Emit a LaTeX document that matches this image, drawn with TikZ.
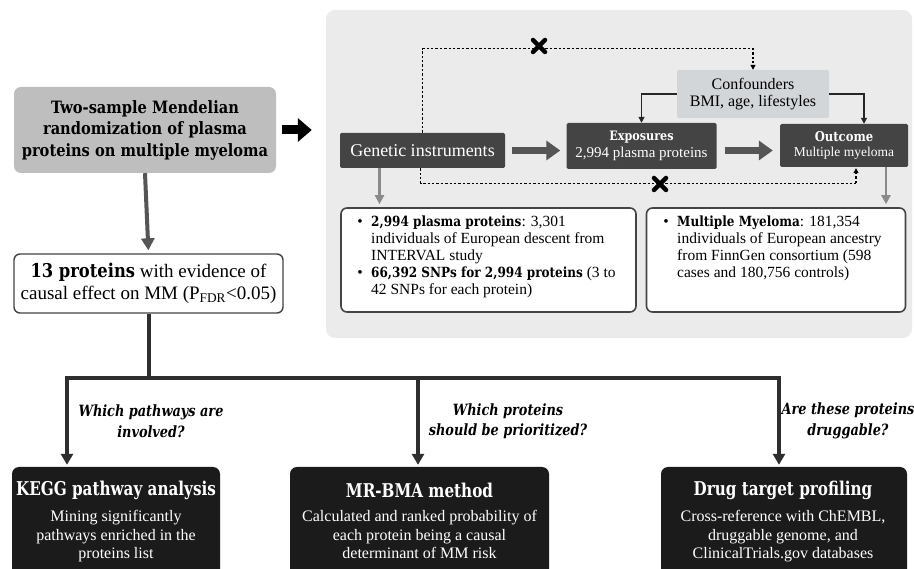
\documentclass[tikz,border=0pt]{standalone}
\usepackage{fontspec}
\setmainfont{Liberation Serif}
\newfontfamily\slab{DejaVu Serif}[FakeStretch=0.86]
\newfontfamily\slabn{DejaVu Serif}[FakeStretch=0.8]
\newfontfamily\slabi{DejaVu Serif}[FakeStretch=0.83]
\usetikzlibrary{arrows.meta}
\definecolor{panelc}{HTML}{EBEBEB}
\definecolor{titlec}{HTML}{BEBEBE}
\definecolor{confc}{HTML}{D3D6D9}
\definecolor{darkc}{HTML}{444444}
\definecolor{blackc}{HTML}{1B1B1B}
\definecolor{arrc}{HTML}{555555}
\definecolor{lightarr}{HTML}{8A8A8A}
\definecolor{treec}{HTML}{2E2E2E}
\newcommand{\bslab}[1]{{\slab\bfseries\fontsize{14}{16.8}\selectfont #1}}
\tikzset{
  darkbox/.style={fill=darkc, text=white, rounded corners=1.5pt, inner sep=0pt, align=center},
  whitebox/.style={draw=darkc, line width=1.6pt, fill=white, rounded corners=6pt, inner sep=0pt},
  botbox/.style={fill=blackc, rounded corners=7pt, inner sep=0pt},
  fatarrow/.style={arrc, line width=7pt, -{Triangle[width=19pt,length=14pt]}},
  lightarrow/.style={lightarr, line width=2.5pt, -{Triangle[width=9pt,length=9pt]}},
  dotline/.style={black, line width=1.1pt, dash pattern=on 2.4pt off 2pt},
  dottip/.style={-{Triangle[width=5pt,length=5pt]}},
  thinarrow/.style={black!85, line width=1.2pt, -{Triangle[width=6pt,length=6pt]}},
  treeline/.style={treec, line width=4pt, line join=miter},
  treearrow/.style={treec, line width=4pt, -{Triangle[width=12pt,length=11pt]}},
  question/.style={align=center, font=\slabi\bfseries\itshape\fontsize{15.5}{20.5}\selectfont},
  xmark/.style={black, line width=4.5pt, line cap=round},
  bodytxt/.style={text=white, align=center, font=\fontsize{16}{18.5}\selectfont},
  bottitle/.style={text=white, font=\slabn\bfseries\fontsize{19}{22}\selectfont},
  infotxt/.style={anchor=north west, inner sep=0pt, align=left, font=\fontsize{15.5}{16.8}\selectfont},
  bullet/.style={anchor=north east, inner sep=0pt, font=\fontsize{15.5}{16.8}\selectfont},
}
\begin{document}
\begin{tikzpicture}[x=1pt,y=-1pt]
\useasboundingbox[fill=white] (0,0) rectangle (914,569);

% right panel
\node[fill=panelc, rounded corners=9pt, minimum width=586pt, minimum height=328pt, inner sep=0pt] (panel) at (619,174) {};

% title box
\node[fill=titlec, rounded corners=7pt, minimum width=262pt, minimum height=86pt, inner sep=0pt, align=center,
      font=\slab\bfseries\fontsize{17}{21.5}\selectfont] (title) at (145,130)
  {Two-sample Mendelian\\randomization of plasma\\proteins on multiple myeloma};

% 13 proteins box
\node[draw=darkc, line width=1.4pt, fill=white, rounded corners=6pt, minimum width=269pt, minimum height=59pt, inner sep=0pt,
      align=center, font=\fontsize{19}{21.5}\selectfont] (p13) at (148.5,283.5)
  {{\slab\bfseries 13 proteins} with evidence of\\causal effect on MM (P\textsubscript{FDR}<0.05)};

% panel nodes
\node[darkbox, minimum width=165pt, minimum height=35pt, font=\fontsize{18}{20}\selectfont] (gen) at (422.5,150.5) {Genetic instruments};
\node[darkbox, minimum width=150pt, minimum height=46pt] (exp) at (641.5,146)
  {{\slab\bfseries\fontsize{13}{15}\selectfont Exposures}\\[3pt]{\fontsize{15}{17}\selectfont 2,994 plasma proteins}};
\node[darkbox, minimum width=128pt, minimum height=43pt] (out) at (844,145.5)
  {{\slab\bfseries\fontsize{13.5}{15}\selectfont Outcome}\\[3pt]{\fontsize{13.5}{15}\selectfont Multiple myeloma}};
\node[fill=confc, rounded corners=2pt, minimum width=152pt, minimum height=48pt, inner sep=0pt, align=center,
      font=\fontsize{16}{17}\selectfont] (conf) at (753,94)
  {Confounders\\BMI, age, lifestyles};

% info boxes
\node[whitebox, minimum width=295pt, minimum height=104pt] (info1) at (488.5,260) {};
\node[whitebox, minimum width=259pt, minimum height=104pt] (info2) at (776,260) {};
\node[infotxt] (i1a) at (371,215)
  {\strut\bslab{2,994 plasma proteins}: 3,301\\individuals of European descent from\\INTERVAL study};
\node[bullet] (i1ab) at ([xshift=-8pt]i1a.north west) {\strut\textbullet};
\node[infotxt] (i1b) at (371,265.5)
  {\strut\bslab{66,392 SNPs for 2,994 proteins} (3 to\\42 SNPs for each protein)};
\node[bullet] (i1bb) at ([xshift=-8pt]i1b.north west) {\strut\textbullet};
\node[infotxt] (i2a) at (677,215)
  {\strut\bslab{Multiple Myeloma}: 181,354\\individuals of European ancestry\\from FinnGen consortium (598\\cases and 180,756 controls)};
\node[bullet] (i2ab) at ([xshift=-8pt]i2a.north west) {\strut\textbullet};

% bottom boxes
\node[botbox, minimum width=208pt, minimum height=120pt] (kegg) at (116,527) {};
\node[botbox, minimum width=259pt, minimum height=120pt] (mr) at (419.5,527) {};
\node[botbox, minimum width=246pt, minimum height=120pt] (drug) at (784,527) {};
\node[bottitle] (keggt) at (116,490) {KEGG pathway analysis};
\node[bottitle] (mrt) at (419.5,490) {MR-BMA method};
\node[bottitle] (drugt) at (783,490) {Drug target profiling};
\node[bodytxt, anchor=north] (keggb) at (116,507) {Mining significantly\\pathways enriched in the\\proteins list};
\node[bodytxt, anchor=north] (mrb) at (419.5,507) {Calculated and ranked probability of\\each protein being a causal\\determinant of MM risk};
\node[bodytxt, anchor=north] (drugb) at (783,507) {Cross-reference with ChEMBL,\\druggable genome, and\\ClinicalTrials.gov databases};

% questions
\node[question] (q1) at (151,421) {Which pathways are\\involved?};
\node[question] (q2) at (508,421) {Which proteins\\should be prioritized?};
\node[question] (q3) at (848,421) {Are these proteins\\druggable?};

% arrows left column
\draw[black, line width=9pt, -{Triangle[width=23pt,length=14pt]}, shorten <=6pt, shorten >=14pt] (title.east) -- (title.east -| panel.west);
\draw[arrc, line width=4pt, -{Triangle[width=13pt,length=12pt]}, shorten >=3pt] (title.south) -- (p13.north);

% tree
\coordinate (b1) at (67,378);
\coordinate (b2) at (418,378);
\coordinate (b3) at (779,378);
\draw[treeline] (p13.south) -- (p13.south |- b1);
\draw[treeline] (b1) -- (b3);
\draw[treearrow, shorten >=2pt] ([yshift=2pt]b1) -- (b1 |- kegg.north);
\draw[treearrow, shorten >=2pt] ([yshift=2pt]b2) -- (b2 |- mr.north);
\draw[treearrow, shorten >=2pt] ([yshift=2pt]b3) -- (b3 |- drug.north);

% panel arrows
\draw[fatarrow, shorten <=7pt, shorten >=6pt] (gen.east) -- (gen.east -| exp.west);
\draw[fatarrow, shorten <=8pt, shorten >=7pt] (exp.east |- gen.east) -- (gen.east -| out.west);
\draw[thinarrow] (conf.west) -| (exp.north);
\draw[thinarrow] (conf.east) -| ([xshift=20pt]out.north);

% dotted paths
\draw[dotline, dottip] (gen.north) |- ([yshift=21pt]conf.north) -- (conf.north);
\coordinate (dbot) at ([xshift=12pt,yshift=-16pt]out.south);
\draw[dotline] ([xshift=-2pt]gen.south) |- (dbot);
\draw[dotline, dottip, shorten >=1pt] (dbot) -- ([xshift=12pt]out.south);
\draw[xmark] (533,40) -- (545,52) (533,52) -- (545,40);
\draw[xmark] (654,178) -- (666,190) (654,190) -- (666,178);

% light arrows to info boxes
\coordinate (ga) at ([xshift=-43pt]gen.south);
\draw[lightarrow, shorten >=3pt] (ga) -- (ga |- info1.north);
\coordinate (oa) at ([xshift=42pt]out.south);
\draw[lightarrow, shorten >=3pt] (oa) -- (oa |- info2.north);
\end{tikzpicture}
\end{document}
